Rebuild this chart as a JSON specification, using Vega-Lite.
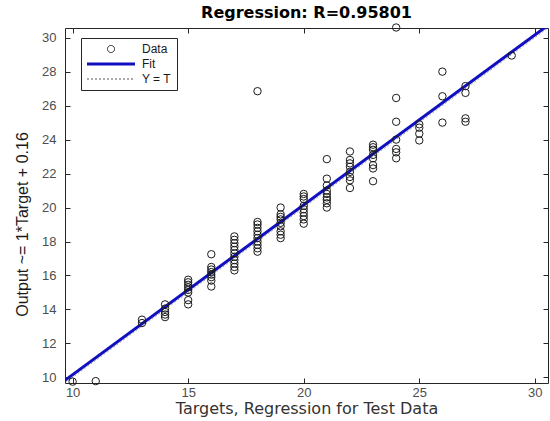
{
  "$schema": "https://vega.github.io/schema/vega-lite/v6.json",
  "width": 483,
  "height": 355,
  "autosize": "none",
  "padding": {"left": 65, "top": 28, "right": 2, "bottom": 38},
  "background": "white",
  "title": {"text": "Regression: R=0.95801", "font": "DejaVu Sans", "fontSize": 16, "fontWeight": "bold", "color": "black", "offset": 1, "anchor": "middle"},
  "config": {
    "view": {"stroke": "#262626", "strokeWidth": 1},
    "axis": {"grid": false, "domain": false, "tickColor": "#262626", "tickSize": -5, "labelFont": "Liberation Sans", "labelFontSize": 13, "labelColor": "#4d4d4d", "titleFont": "DejaVu Sans", "titleColor": "#333333", "titleFontWeight": "normal"}
  },
  "datasets": {
    "pts": [
      {"t": 10, "o": 9.75}, {"t": 11, "o": 9.78},
      {"t": 13, "o": 13.2}, {"t": 13, "o": 13.4},
      {"t": 14, "o": 14.3}, {"t": 14, "o": 14.05}, {"t": 14, "o": 13.85}, {"t": 14, "o": 13.7}, {"t": 14, "o": 13.55},
      {"t": 15, "o": 15.75}, {"t": 15, "o": 15.6}, {"t": 15, "o": 15.45}, {"t": 15, "o": 15.3}, {"t": 15, "o": 15.15}, {"t": 15, "o": 15.0}, {"t": 15, "o": 14.55}, {"t": 15, "o": 14.3},
      {"t": 16, "o": 17.25}, {"t": 16, "o": 16.5}, {"t": 16, "o": 16.35}, {"t": 16, "o": 16.2}, {"t": 16, "o": 16.05}, {"t": 16, "o": 15.9}, {"t": 16, "o": 15.7}, {"t": 16, "o": 15.35},
      {"t": 17, "o": 18.3}, {"t": 17, "o": 18.1}, {"t": 17, "o": 17.9}, {"t": 17, "o": 17.7}, {"t": 17, "o": 17.5}, {"t": 17, "o": 17.3}, {"t": 17, "o": 17.1}, {"t": 17, "o": 16.9}, {"t": 17, "o": 16.7}, {"t": 17, "o": 16.5}, {"t": 17, "o": 16.3},
      {"t": 18, "o": 26.85}, {"t": 18, "o": 19.15}, {"t": 18, "o": 19.0}, {"t": 18, "o": 18.8}, {"t": 18, "o": 18.6}, {"t": 18, "o": 18.4}, {"t": 18, "o": 18.2}, {"t": 18, "o": 18.0}, {"t": 18, "o": 17.8}, {"t": 18, "o": 17.6}, {"t": 18, "o": 17.4},
      {"t": 19, "o": 20.0}, {"t": 19, "o": 19.6}, {"t": 19, "o": 19.45}, {"t": 19, "o": 19.3}, {"t": 19, "o": 19.1}, {"t": 19, "o": 18.9}, {"t": 19, "o": 18.6}, {"t": 19, "o": 18.4}, {"t": 19, "o": 18.2},
      {"t": 20, "o": 20.8}, {"t": 20, "o": 20.65}, {"t": 20, "o": 20.5}, {"t": 20, "o": 20.1}, {"t": 20, "o": 19.9}, {"t": 20, "o": 19.7}, {"t": 20, "o": 19.5}, {"t": 20, "o": 19.3}, {"t": 20, "o": 19.05},
      {"t": 21, "o": 22.85}, {"t": 21, "o": 21.7}, {"t": 21, "o": 21.3}, {"t": 21, "o": 21.0}, {"t": 21, "o": 20.8}, {"t": 21, "o": 20.6}, {"t": 21, "o": 20.45}, {"t": 21, "o": 20.25}, {"t": 21, "o": 20.0},
      {"t": 22, "o": 23.3}, {"t": 22, "o": 22.8}, {"t": 22, "o": 22.6}, {"t": 22, "o": 22.4}, {"t": 22, "o": 22.1}, {"t": 22, "o": 21.8}, {"t": 22, "o": 21.6}, {"t": 22, "o": 21.15},
      {"t": 23, "o": 23.7}, {"t": 23, "o": 23.55}, {"t": 23, "o": 23.4}, {"t": 23, "o": 23.1}, {"t": 23, "o": 22.9}, {"t": 23, "o": 22.5}, {"t": 23, "o": 22.3}, {"t": 23, "o": 21.55},
      {"t": 24, "o": 30.6}, {"t": 24, "o": 26.45}, {"t": 24, "o": 25.05}, {"t": 24, "o": 24.0}, {"t": 24, "o": 23.45}, {"t": 24, "o": 23.25}, {"t": 24, "o": 22.9},
      {"t": 25, "o": 24.9}, {"t": 25, "o": 24.7}, {"t": 25, "o": 24.35}, {"t": 25, "o": 23.95},
      {"t": 26, "o": 28.0}, {"t": 26, "o": 26.55}, {"t": 26, "o": 25.0},
      {"t": 27, "o": 27.15}, {"t": 27, "o": 26.75}, {"t": 27, "o": 25.25}, {"t": 27, "o": 25.05},
      {"t": 29, "o": 28.95}
    ],
    "fit": [{"t": 9.67, "o": 9.83, "series": "Fit"}, {"t": 30.57, "o": 30.73, "series": "Fit"}],
    "ident": [{"t": 9.67, "o": 9.67, "series": "Y = T"}, {"t": 30.57, "o": 30.57, "series": "Y = T"}]
  },
  "encoding": {
    "color": {
      "field": "series", "type": "nominal",
      "scale": {"domain": ["Data", "Fit", "Y = T"], "range": ["#1a1a1a", "#1010c0", "#555555"]},
      "legend": {
        "title": null, "orient": "none", "legendX": 16, "legendY": 10,
        "strokeColor": "#262626", "fillColor": "white", "padding": 5,
        "labelFont": "Liberation Sans", "labelFontSize": 12, "labelColor": "#1a1a1a", "labelAlign": "left",
        "symbolSize": 100, "symbolOffset": 19, "labelOffset": 25, "rowPadding": 3,
        "symbolType": "stroke",
        "encode": {
          "symbols": {
            "update": {
              "shape": {"signal": "datum.value === 'Data' ? 'circle' : 'stroke'"},
              "size": {"signal": "datum.value === 'Data' ? 50 : 2304"},
              "strokeWidth": {"signal": "datum.value === 'Fit' ? 3 : 1"},
              "strokeDash": {"signal": "datum.value === 'Y = T' ? [2, 2] : [1, 0]"},
              "stroke": {"signal": "datum.value === 'Fit' ? '#1010c0' : '#1a1a1a'"},
              "fill": {"value": "transparent"},
              "opacity": {"value": 1}
            }
          }
        }
      }
    }
  },
  "layer": [
    {
      "data": {"name": "ident"},
      "mark": {"type": "line", "strokeWidth": 0.5, "strokeDash": [2, 2], "clip": true},
      "encoding": {
        "x": {"field": "t", "type": "quantitative", "scale": {"domain": [9.67, 30.57], "nice": false, "zero": false}, "axis": {"orient": "top", "values": [10, 15, 20, 25, 30], "labels": false, "title": null}},
        "y": {"field": "o", "type": "quantitative", "scale": {"domain": [9.67, 30.57], "nice": false, "zero": false}, "axis": {"orient": "right", "values": [10, 12, 14, 16, 18, 20, 22, 24, 26, 28, 30], "labels": false, "title": null}}
      }
    },
    {
      "data": {"name": "fit"},
      "mark": {"type": "line", "strokeWidth": 3, "clip": true},
      "encoding": {
        "x": {"field": "t", "type": "quantitative", "axis": null},
        "y": {"field": "o", "type": "quantitative", "axis": null}
      }
    },
    {
      "data": {"name": "pts"},
      "transform": [{"calculate": "'Data'", "as": "series"}],
      "mark": {"type": "point", "shape": "circle", "filled": false, "size": 55, "strokeWidth": 1, "opacity": 1, "clip": false},
      "encoding": {
        "x": {"field": "t", "type": "quantitative", "axis": {"values": [10, 15, 20, 25, 30], "title": "Targets, Regression for Test Data", "titleFontSize": 16, "labelPadding": 8, "titlePadding": 1}},
        "y": {"field": "o", "type": "quantitative", "axis": {"values": [10, 12, 14, 16, 18, 20, 22, 24, 26, 28, 30], "title": "Output ~= 1*Target + 0.16", "titleFont": "Liberation Sans", "titleFontSize": 16, "titleColor": "#1a1a1a", "labelPadding": 14, "titleX": -43, "titleY": 196, "titleBaseline": "middle", "titleAngle": -90}}
      }
    }
  ],
  "resolve": {"axis": {"x": "independent", "y": "independent"}}
}
